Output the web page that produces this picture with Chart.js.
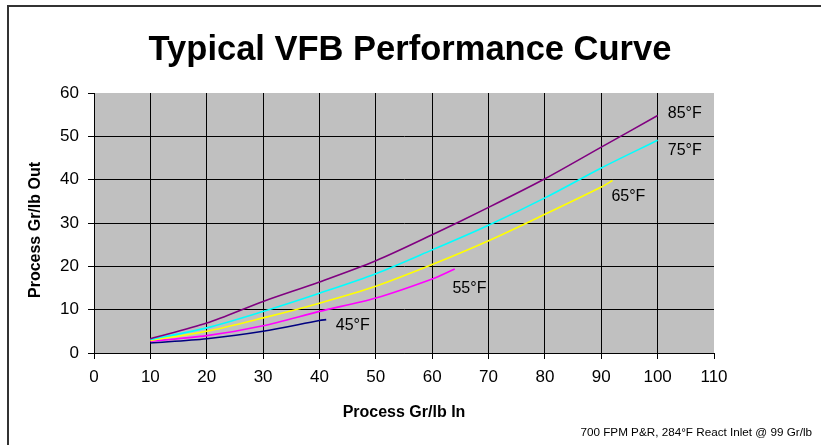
<!DOCTYPE html>
<html>
<head>
<meta charset="utf-8">
<script src="https://cdn.jsdelivr.net/npm/chart.js@4.4.1/dist/chart.umd.min.js"></script>
<style>
html,body{margin:0;padding:0;background:#fff;}
#wrap{position:relative;width:821px;height:445px;}
</style>
</head>
<body>
<div id="wrap"><canvas id="c" width="821" height="445"></canvas></div>
<script>
const chartTitle = "Typical VFB Performance Curve";
const xAxisTitle = "Process Gr/lb In";
const yAxisTitle = "Process Gr/lb Out";
const footNote = "700 FPM P&R, 284\u00B0F React Inlet @ 99 Gr/lb";

const seriesNames = ["85\u00B0F", "75\u00B0F", "65\u00B0F", "55\u00B0F", "45\u00B0F"];
const seriesColors = ["#800080", "#00FFFF", "#FFFF00", "#FF00FF", "#000080"];

const x85 = [10, 20, 30, 40, 50, 60, 70, 80, 90, 100];
const y85 = [3.3, 6.9, 11.9, 16.4, 21.3, 27.3, 33.6, 40.2, 47.5, 54.8];
const x75 = [10, 20, 30, 40, 50, 60, 70, 80, 90, 100];
const y75 = [3.1, 5.8, 9.6, 13.8, 18.3, 23.8, 29.5, 35.8, 42.7, 49.1];
const x65 = [10, 20, 30, 40, 50, 60, 70, 80, 90, 92];
const y65 = [2.9, 5.0, 8.1, 11.5, 15.4, 20.4, 25.9, 32.0, 38.3, 39.8];
const x55 = [10, 20, 30, 40, 50, 60, 64];
const y55 = [2.7, 4.0, 6.3, 9.6, 12.7, 17.1, 19.4];
const x45 = [10, 20, 30, 40, 41.2];
const y45 = [2.3, 3.3, 5.0, 7.5, 7.7];

// label anchor (data coords) for each curve label
const labelX = [101.8, 101.8, 91.8, 63.6, 42.9];
const labelY = [55.2, 46.7, 36.0, 14.8, 6.4];

const xTicks = [0, 10, 20, 30, 40, 50, 60, 70, 80, 90, 100, 110];
const yTicks = [0, 10, 20, 30, 40, 50, 60];

const xs = [x85, x75, x65, x55, x45];
const ys = [y85, y75, y65, y55, y45];

const FONT = "'Liberation Sans', Arial, sans-serif";

const datasets = seriesNames.map((n, i) => ({
  label: n,
  data: xs[i].map((x, j) => ({x: x, y: ys[i][j]})),
  borderColor: seriesColors[i],
  backgroundColor: seriesColors[i],
  borderWidth: 1.6,
  pointRadius: 0,
  showLine: true,
  tension: 0.3,
  fill: false
}));

const decor = {
  id: 'decor',
  beforeDraw(chart) {
    const {ctx, chartArea: a} = chart;
    ctx.save();
    ctx.fillStyle = '#C0C0C0';
    ctx.fillRect(a.left, a.top, a.right - a.left, a.bottom - a.top);
    ctx.restore();
  },
  afterDraw(chart) {
    const {ctx, chartArea: a, scales} = chart;
    ctx.save();
    // outer frame
    ctx.strokeStyle = '#333';
    ctx.lineWidth = 2;
    ctx.strokeRect(8, 6, 900, 600);
    // title
    ctx.fillStyle = '#000';
    ctx.textAlign = 'center';
    ctx.textBaseline = 'alphabetic';
    ctx.font = "bold 34.5px " + FONT;
    ctx.fillText(chartTitle, 410, 60);
    // axis titles
    ctx.font = "bold 16px " + FONT;
    ctx.textBaseline = 'middle';
    ctx.fillText(xAxisTitle, 404, 413);
    ctx.save();
    ctx.translate(36, 230);
    ctx.rotate(-Math.PI / 2);
    ctx.fillText(yAxisTitle, 0, 0);
    ctx.restore();
    // curve labels
    ctx.font = "16px " + FONT;
    ctx.textAlign = 'left';
    seriesNames.forEach((n, i) => {
      ctx.fillText(n, scales.x.getPixelForValue(labelX[i]), scales.y.getPixelForValue(labelY[i]));
    });
    // footnote
    ctx.font = "11.7px " + FONT;
    ctx.textAlign = 'right';
    ctx.fillText(footNote, 812, 433);
    ctx.restore();
  }
};

new Chart(document.getElementById('c'), {
  type: 'scatter',
  data: {datasets},
  options: {
    responsive: false,
    animation: false,
    events: [],
    layout: {padding: {left: 34, top: 93, right: 107, bottom: 52}},
    plugins: {legend: {display: false}, title: {display: false}, tooltip: {enabled: false}},
    scales: {
      x: {
        type: 'linear', min: 0, max: 110,
        afterBuildTicks: s => { s.ticks = xTicks.map(v => ({value: v})); },
        afterFit: s => { s.height = 40; },
        ticks: {color: '#000', font: {family: FONT, size: 17}, padding: 8, maxRotation: 0, autoSkip: false},
        grid: {
          color: c => (c.tick && c.tick.value === 110) ? 'rgba(0,0,0,0)' : '#000',
          tickColor: '#000', tickLength: 6, lineWidth: 1, drawTicks: true
        },
        border: {display: true, color: '#000', width: 1}
      },
      y: {
        type: 'linear', min: 0, max: 60,
        afterBuildTicks: s => { s.ticks = yTicks.map(v => ({value: v})); },
        afterFit: s => { s.width = 60; },
        ticks: {color: '#000', font: {family: FONT, size: 17}, padding: 9, autoSkip: false},
        grid: {
          color: c => (c.tick && c.tick.value === 60) ? 'rgba(0,0,0,0)' : '#000',
          tickColor: '#000', tickLength: 6, lineWidth: 1, drawTicks: true
        },
        border: {display: true, color: '#000', width: 1}
      }
    }
  },
  plugins: [decor]
});
</script>
</body>
</html>
